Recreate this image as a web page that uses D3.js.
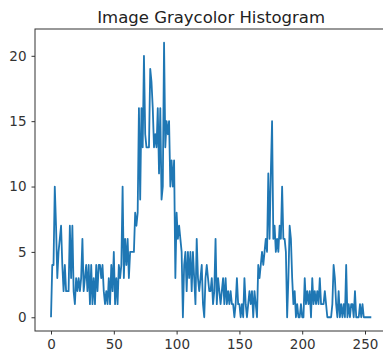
<!DOCTYPE html>
<html>
<head>
<meta charset="utf-8">
<script src="https://cdn.jsdelivr.net/npm/d3@7"></script>
<style>
  html, body { margin: 0; padding: 0; background: #fff; }
  svg { display: block; font-family: "DejaVu Sans", sans-serif; }
</style>
</head>
<body>
<div id="chart"></div>
<script>
// gray level counts, 0..255
const counts = [
  0, 4, 4, 10, 7, 3, 5, 6, 7, 4, 2, 4, 2, 2, 2, 7,
  3, 7, 2, 1, 3, 2, 3, 2, 3, 6, 2, 3, 4, 2, 4, 1,
  4, 1, 3, 1, 4, 2, 4, 4, 3, 4, 2, 1, 2, 1, 3, 1,
  4, 2, 5, 1, 3, 1, 4, 3, 4, 10, 3, 6, 4, 6, 3, 5,
  5, 5, 5, 8, 7, 8, 16, 9, 16, 13, 20, 14, 13, 13, 13, 19,
  18, 16, 13, 14, 13, 16, 11, 16, 9, 10, 21, 13, 15, 14, 15, 10,
  12, 10, 12, 3, 8, 6, 7, 6, 5, 0, 4, 5, 2, 5, 3, 5,
  2, 5, 3, 1, 6, 3, 2, 3, 4, 1, 0, 3, 4, 3, 2, 2,
  3, 1, 2, 6, 1, 3, 2, 1, 2, 3, 1, 3, 1, 2, 1, 2,
  1, 1, 0, 1, 3, 1, 1, 0, 1, 0, 3, 1, 0, 1, 2, 1,
  2, 0, 2, 1, 0, 4, 3, 4, 5, 4, 5, 6, 5, 11, 6, 11,
  15, 6, 7, 5, 6, 5, 7, 6, 10, 6, 6, 5, 0, 3, 7, 6,
  3, 1, 2, 0, 1, 0, 0, 1, 0, 0, 3, 1, 2, 1, 2, 0,
  3, 1, 2, 1, 2, 1, 3, 1, 1, 1, 2, 1, 0, 0, 0, 0,
  1, 4, 3, 1, 0, 2, 0, 1, 0, 1, 0, 4, 0, 1, 0, 1,
  1, 0, 2, 0, 0, 0, 1, 0, 1, 0, 0, 0, 0, 0, 0, 0
];
const xTicks = [0, 50, 100, 150, 200, 250];
const yTicks = [0, 5, 10, 15, 20];
const title = "Image Graycolor Histogram";

const W = 383, H = 356;
const plotLeft = 35, plotTop = 29, plotBottom = 331;

const n = counts.length;
const xPad = (n - 1) * 0.05;
const yMax = d3.max(counts), yMin = d3.min(counts);
const yPad = (yMax - yMin) * 0.05;

// axes width chosen so 0..250 tick spacing matches the picture
const pxPerUnit = (365 - 51) / 250;
const plotRight = plotLeft + (n - 1 + 2 * xPad) * pxPerUnit;

const x = d3.scaleLinear().domain([-xPad, n - 1 + xPad]).range([plotLeft, plotRight]);
const y = d3.scaleLinear().domain([yMin - yPad, yMax + yPad]).range([plotBottom, plotTop]);

const svg = d3.select("#chart").append("svg")
  .attr("width", W).attr("height", H);

svg.append("defs").append("clipPath").attr("id", "plot")
  .append("rect").attr("x", plotLeft).attr("y", plotTop)
  .attr("width", plotRight - plotLeft).attr("height", plotBottom - plotTop);

const line = d3.line()
  .x((d, i) => x(i))
  .y(d => y(d));

svg.append("path")
  .datum(counts)
  .attr("clip-path", "url(#plot)")
  .attr("d", line)
  .attr("fill", "none")
  .attr("stroke", "#1f77b4")
  .attr("stroke-width", 1.8)
  .attr("stroke-linejoin", "round")
  .attr("stroke-linecap", "butt");

// frame
svg.append("rect")
  .attr("x", plotLeft).attr("y", plotTop)
  .attr("width", plotRight - plotLeft).attr("height", plotBottom - plotTop)
  .attr("fill", "none").attr("stroke", "#333").attr("stroke-width", 1);

const xAxis = svg.append("g")
  .attr("transform", `translate(0,${plotBottom})`)
  .call(d3.axisBottom(x).tickValues(xTicks).tickSize(3.5).tickPadding(4.5).tickSizeOuter(0));
const yAxis = svg.append("g")
  .attr("transform", `translate(${plotLeft},0)`)
  .call(d3.axisLeft(y).tickValues(yTicks).tickSize(3.5).tickPadding(5).tickSizeOuter(0));

[xAxis, yAxis].forEach(g => {
  g.select(".domain").remove();
  g.selectAll("line").attr("stroke", "#333").attr("stroke-width", 1);
  g.selectAll("text")
    .attr("fill", "#333")
    .style("font-family", "'DejaVu Sans', sans-serif")
    .style("font-size", "13.5px");
});

svg.append("text")
  .attr("x", (plotLeft + plotRight) / 2)
  .attr("y", 23)
  .attr("text-anchor", "middle")
  .attr("fill", "#222")
  .style("font-size", "16.5px")
  .text(title);
</script>
</body>
</html>
